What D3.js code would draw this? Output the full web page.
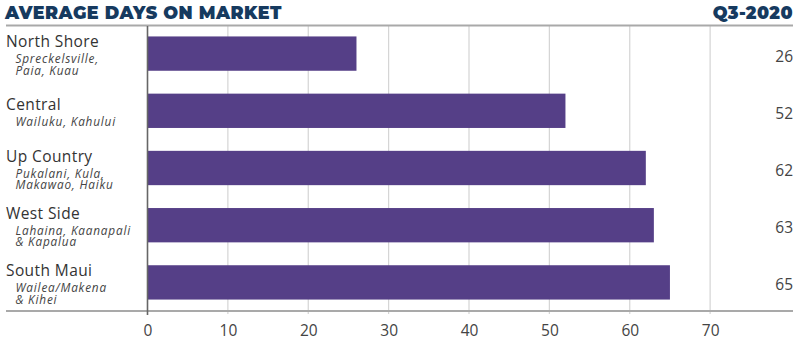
<!DOCTYPE html>
<html><head><meta charset="utf-8">
<script src="https://cdn.jsdelivr.net/npm/d3@7"></script>
<style>body{margin:0;background:#fff}svg{display:block}</style>
</head><body>
<svg id="c" width="800" height="349"></svg>
<script>
const categories = ["North Shore","Central","Up Country","West Side","South Maui"];
const subLabels = [["Spreckelsville,","Paia, Kuau"],["Wailuku, Kahului"],["Pukalani, Kula,","Makawao, Haiku"],["Lahaina, Kaanapali","& Kapalua"],["Wailea/Makena","& Kihei"]];
const values = [26,52,62,63,65];
const ticks = [0,10,20,30,40,50,60,70];
const title = "AVERAGE DAYS ON MARKET";
const period = "Q3-2020";

const svg = d3.select("#c");
const font = "'Open Sans', Lato, sans-serif";
const titleFont = "Montserrat, Lato, sans-serif";
const x = d3.scaleLinear().domain([0,80]).range([147.5,790.5]);
const y = d3.scaleBand().domain(categories).range([25,311]).paddingInner(0.4).paddingOuter(0.2);

svg.append("text").attr("x",5).attr("y",19).text(title)
  .attr("font-family",titleFont).attr("font-weight","900").attr("font-size",17.5)
  .attr("fill","#163a5f").attr("letter-spacing",0.45);
svg.append("text").attr("x",793).attr("y",19).attr("text-anchor","end").text(period)
  .attr("font-family",titleFont).attr("font-weight","900").attr("font-size",17.5)
  .attr("fill","#163a5f").attr("letter-spacing",0.45);

// grid
svg.append("g").selectAll("line").data(ticks.filter(t=>t>0)).join("line")
  .attr("x1",d=>x(d)).attr("x2",d=>x(d)).attr("y1",26).attr("y2",314)
  .attr("stroke","#d4d4d4").attr("stroke-width",1.2);

svg.append("line").attr("x1",6).attr("x2",793).attr("y1",25.5).attr("y2",25.5)
  .attr("stroke","#a9a9a9").attr("stroke-width",2);

// bars
svg.append("g").selectAll("rect").data(values).join("rect")
  .attr("x",x(0)).attr("y",(d,i)=>y(categories[i]))
  .attr("width",d=>x(d)-x(0)).attr("height",y.bandwidth())
  .attr("fill","#553f87");

// axis line
svg.append("line").attr("x1",6).attr("x2",793).attr("y1",311).attr("y2",311)
  .attr("stroke","#a9a9a9").attr("stroke-width",2);
svg.append("line").attr("x1",x(0)).attr("x2",x(0)).attr("y1",26).attr("y2",315)
  .attr("stroke","#666").attr("stroke-width",1.6);

// tick labels
const ax = d3.axisBottom(x).tickValues(ticks).tickSize(0).tickPadding(0);
const gA = svg.append("g").attr("transform","translate(0,336)").call(ax);
gA.select(".domain").remove();
gA.selectAll("text").attr("font-family",font).attr("font-size",15.5).attr("fill","#444").attr("dy","0");

// category labels
const gl = svg.append("g");
categories.forEach((c,i)=>{
  const top = y(c);
  const off = (2 - subLabels[i].length) * 5.5;
  gl.append("text").attr("x",6).attr("y",top+11+off).text(c)
    .attr("font-family",font).attr("font-size",15.5).attr("letter-spacing",0.4).attr("fill","#333");
  subLabels[i].forEach((s,j)=>{
    gl.append("text").attr("x",15.5).attr("y",top+26.8+off+j*11.6).text(s)
      .attr("font-family",font).attr("font-style","italic").attr("font-size",11.8)
      .attr("letter-spacing",0.8).attr("fill","#444");
  });
  gl.append("text").attr("x",793).attr("y",top+y.bandwidth()/2+8)
    .attr("text-anchor","end").text(values[i])
    .attr("font-family",font).attr("font-size",15.5).attr("fill","#444");
});
</script>
</body></html>
